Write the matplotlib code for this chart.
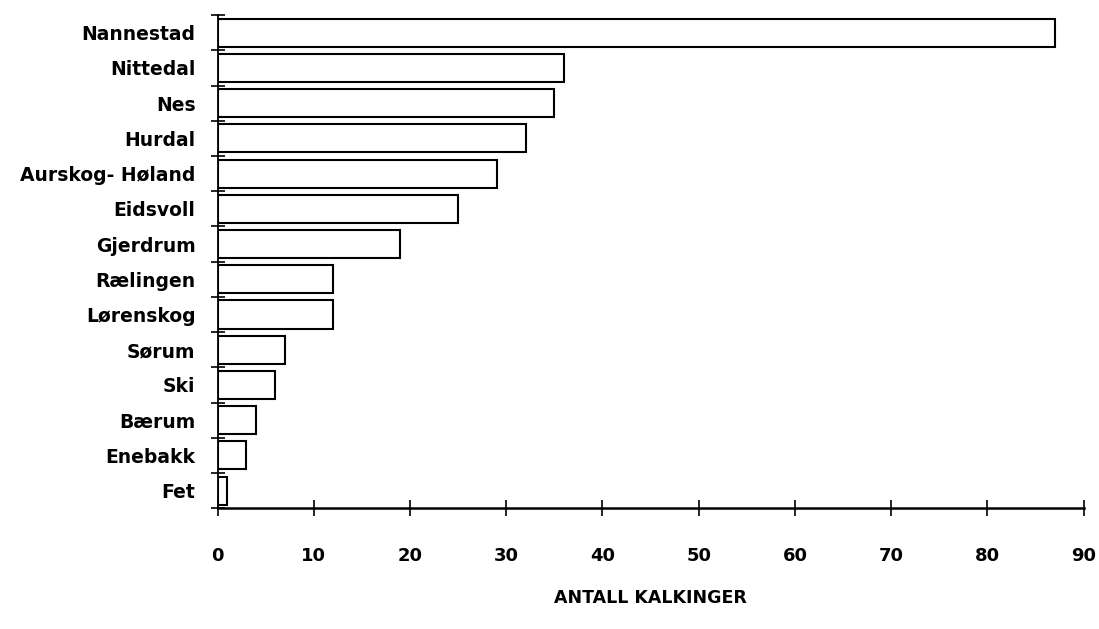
import numpy as np
import matplotlib
matplotlib.use("Agg")
from matplotlib import pyplot as plt
from matplotlib.ticker import FixedLocator

# data, top to bottom
kommuner = ['Nannestad', 'Nittedal', 'Nes', 'Hurdal', 'Aurskog- Høland', 'Eidsvoll',
            'Gjerdrum', 'Rælingen', 'Lørenskog', 'Sørum', 'Ski', 'Bærum',
            'Enebakk', 'Fet']
kalkinger = [87, 36, 35, 32, 29, 25, 19, 12, 12, 7, 6, 4, 3, 1]
xticks = [0, 10, 20, 30, 40, 50, 60, 70, 80, 90]

plt.rcParams['font.family'] = ['DejaVu Sans']
plt.rcParams['font.weight'] = 'bold'

fig = plt.figure(figsize=(10.99, 6.29), dpi=100)
ax = fig.add_axes([0.198, 0.192, 0.788, 0.784])

n = len(kommuner)
y = np.arange(n)[::-1]
ax.barh(y, kalkinger, height=0.8, color='white', edgecolor='black', linewidth=1.5)

ax.set_xlim(0, 90)
ax.set_ylim(-0.5, n - 0.5)

for s in ['top', 'right']:
    ax.spines[s].set_visible(False)
ax.spines['left'].set_linewidth(1.3)
ax.spines['bottom'].set_linewidth(1.8)

ax.set_yticks(y)
ax.set_yticklabels(kommuner, fontsize=13.5, fontweight='bold')
ax.tick_params(axis='y', which='major', length=0, pad=16)
ax.yaxis.set_minor_locator(FixedLocator(np.arange(n + 1) - 0.5))
ax.tick_params(axis='y', which='minor', direction='inout', length=10, width=1.2)

ax.set_xticks(xticks)
ax.set_xticklabels([str(v) for v in xticks], fontsize=13, fontweight='bold')
ax.tick_params(axis='x', direction='inout', length=12, width=1.2, pad=22)

ax.set_xlabel('ANTALL KALKINGER', fontsize=12.5, fontweight='bold', labelpad=17)

fig.savefig('out.png', dpi=100)
